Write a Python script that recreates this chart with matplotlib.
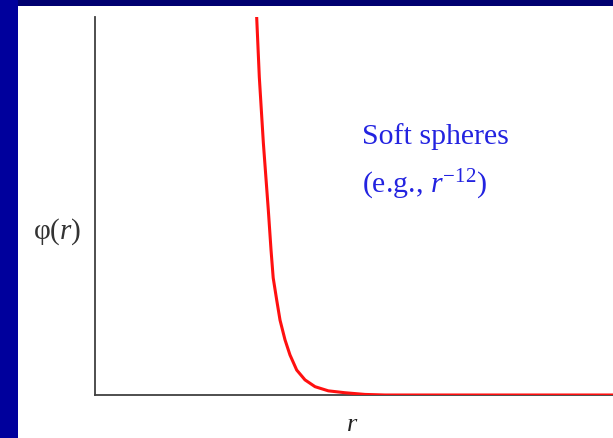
import matplotlib
matplotlib.use("Agg")
import matplotlib.pyplot as plt
from matplotlib.patches import Rectangle

# Soft-sphere potential, values
r_vals = [1.561, 1.586, 1.625, 1.673, 1.699, 1.720, 1.754, 1.786, 1.834, 1.882, 1.947,
          2.027, 2.124, 2.252, 2.413, 2.606, 2.80, 5.00]
phi_vals = [0.997, 0.841, 0.667, 0.489, 0.384, 0.310, 0.251, 0.198, 0.146, 0.106, 0.066,
            0.040, 0.022, 0.011, 0.006, 0.0015, 0.0, 0.0]

plt.rcParams["mathtext.fontset"] = "custom"
plt.rcParams["mathtext.rm"] = "Liberation Serif"
plt.rcParams["mathtext.it"] = "Liberation Serif:italic"

fig = plt.figure(figsize=(6.13, 4.38), dpi=100)
fig.patch.set_facecolor("white")

# navy slide border (top and left)
fig.patches.append(Rectangle((0, 1 - 6 / 438), 1, 6 / 438, transform=fig.transFigure,
                             facecolor="#000070", edgecolor="none", zorder=0))
fig.patches.append(Rectangle((0, 0), 18 / 613, 1, transform=fig.transFigure,
                             facecolor="#00009c", edgecolor="none", zorder=0))

ax = fig.add_axes([95 / 613, 43 / 438, 518 / 613, 378 / 438])
ax.plot(r_vals, phi_vals, color="#ff1010", lw=2.2, solid_joinstyle="round", zorder=3)
ax.set_xlim(0, 5)
ax.set_ylim(0, 1)
ax.set_xticks([])
ax.set_yticks([])
for s in ["top", "right"]:
    ax.spines[s].set_visible(False)
for s in ["left", "bottom"]:
    ax.spines[s].set_color("#404040")
    ax.spines[s].set_linewidth(1.3)

ax.text(0.515, 0.685, "Soft spheres", transform=ax.transAxes, family="Liberation Serif",
        fontsize=21.5, color="#2323e0", ha="left", va="center")
ax.text(0.515, 0.555, "(e.g., $r^{-12}$)", transform=ax.transAxes, family="Liberation Serif",
        fontsize=21.5, color="#2323e0", ha="left", va="center")

fig.text(57 / 613, 1 - 232 / 438, "φ($r$)", family="Liberation Serif", fontsize=21,
         color="#333333", ha="center", va="center")
fig.text(352 / 613, 1 - 431 / 438, "$r$", family="Liberation Serif", fontsize=19,
         color="#222222", ha="center", va="baseline")

fig.savefig("out.png", dpi=100)
